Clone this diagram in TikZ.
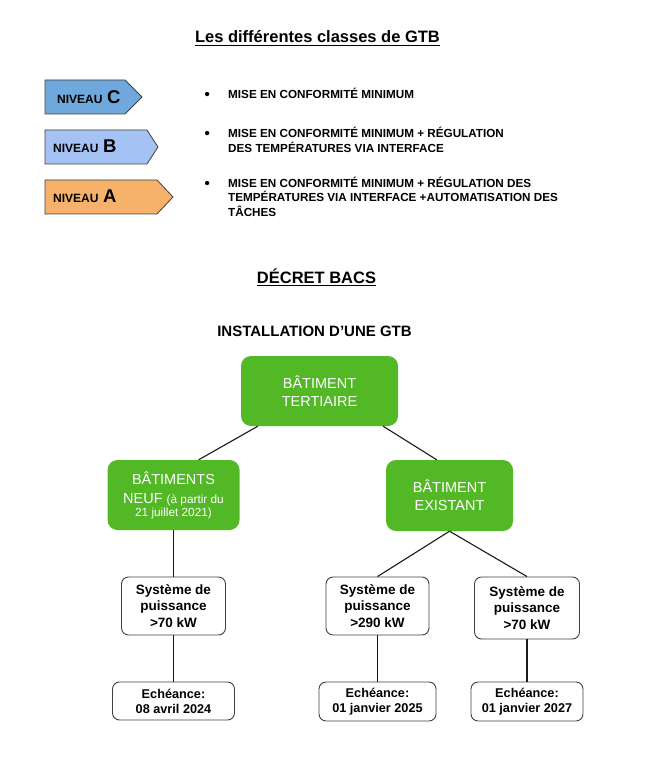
\documentclass[tikz,border=0pt]{standalone}
\usepackage{fontspec}
\setmainfont{Liberation Sans}
\usetikzlibrary{calc}
\definecolor{gtbgreen}{RGB}{82,184,38}
\definecolor{lvlc}{HTML}{6FA8DC}
\definecolor{lvlb}{HTML}{A4C2F4}
\definecolor{lvla}{HTML}{F6B26B}
\definecolor{edge}{HTML}{404040}
\begin{document}
\begin{tikzpicture}[x=1pt,y=-1pt,
  greenbox/.style={fill=gtbgreen, draw=none, rounded corners=10pt, text=white, align=center,
    font=\fontsize{14.5}{18}\selectfont, inner sep=0pt},
  whitebox/.style={draw=edge, line width=0.9pt, rounded corners=7pt, fill=white, align=center,
    font=\bfseries\fontsize{13.5}{16.7}\selectfont, inner sep=0pt},
  echbox/.style={whitebox, font=\bfseries\fontsize{12.7}{15}\selectfont},
  link/.style={draw=black!90, line width=1.1pt},
  lvlshape/.style={draw=edge, line width=0.8pt},
  lvltext/.style={anchor=base west, inner sep=0pt, font=\bfseries},
  bul/.style={anchor=base west, inner sep=0pt, font=\bfseries\fontsize{11.7}{14}\selectfont},
  dot/.style={anchor=base west, inner sep=0pt, font=\bfseries\fontsize{15}{15}\selectfont},
  heading/.style={anchor=base, inner sep=0pt, font=\bfseries\fontsize{16.5}{20}\selectfont},
  uline/.style={line width=1.1pt},
]
\useasboundingbox (0,0) rectangle (660,783);

% Title
\node[heading] (title) at (317.5,43) {Les différentes classes de GTB};
\draw[uline] ($(title.base west)+(0,2.6)$) -- ($(title.base east)+(0,2.6)$);

% Level arrows
\draw[lvlshape, fill=lvlc] (45,80) -- (125,80) -- (142,97) -- (125,114) -- (45,114) -- cycle;
\draw[lvlshape, fill=lvlb] (45,130) -- (147,130) -- (158,147) -- (147,164) -- (45,164) -- cycle;
\draw[lvlshape, fill=lvla] (45,180) -- (157,180) -- (173,197) -- (157,214) -- (45,214) -- cycle;
\node[lvltext] (nc) at (57,104) {\fontsize{12}{12}\selectfont NIVEAU\hspace{4.5pt}\fontsize{18.5}{18}\selectfont C};
\node[lvltext] (nb) at (53,153) {\fontsize{12}{12}\selectfont NIVEAU\hspace{4.5pt}\fontsize{18.5}{18}\selectfont B};
\node[lvltext] (na) at (53,203) {\fontsize{12}{12}\selectfont NIVEAU\hspace{4.5pt}\fontsize{18.5}{18}\selectfont A};

% Bullets
\node[dot] (d1) at (204.5,99.5) {•};
\node[dot] (d2) at (204.5,139) {•};
\node[dot] (d3) at (204.5,188.5) {•};
\node[bul] (l1) at (228,98.5) {MISE EN CONFORMITÉ MINIMUM};
\node[bul] (l2a) at (228,138) {MISE EN CONFORMITÉ MINIMUM + RÉGULATION};
\node[bul] (l2b) at (228,152.7) {DES TEMPÉRATURES VIA INTERFACE};
\node[bul] (l3a) at (228,187.5) {MISE EN CONFORMITÉ MINIMUM + RÉGULATION DES};
\node[bul] (l3b) at (228,202) {TEMPÉRATURES VIA INTERFACE +AUTOMATISATION DES};
\node[bul] (l3c) at (228,216.5) {TÂCHES};

% Décret BACS
\node[heading] (decret) at (316.5,283.3) {DÉCRET BACS};
\draw[uline] ($(decret.base west)+(0,2.6)$) -- ($(decret.base east)+(0,2.6)$);
\node[heading, font=\bfseries\fontsize{15}{18}\selectfont] (install) at (314.5,336.7) {INSTALLATION D’UNE GTB};

% Tree boxes
\node[greenbox, minimum width=157pt, minimum height=70pt] (tert) at (319.5,391) {BÂTIMENT\\TERTIAIRE};
\node[greenbox, minimum width=132pt, minimum height=70pt] (neuf) at (173.5,495)
  {BÂTIMENTS\\[1pt]NEUF {\fontsize{11.8}{13}\selectfont(à partir du}\\[-5pt]{\fontsize{11.8}{13}\selectfont 21 juillet 2021)}};
\node[greenbox, minimum width=127pt, minimum height=71pt] (exist) at (449.5,495.5) {BÂTIMENT\\EXISTANT};

\node[whitebox, minimum width=104pt, minimum height=58pt] (sysl) at (173.5,606) {Système de\\puissance\\>70 kW};
\node[whitebox, minimum width=103pt, minimum height=58pt] (sysm) at (377.5,606) {Système de\\puissance\\>290 kW};
\node[whitebox, minimum width=105pt, minimum height=62pt] (sysr) at (527,608) {Système de\\puissance\\>70 kW};

\node[echbox, minimum width=122pt, minimum height=38pt] (echl) at (173.5,701) {Echéance:\\08 avril 2024};
\node[echbox, minimum width=117pt, minimum height=39pt] (echm) at (377.5,701.5) {Echéance:\\01 janvier 2025};
\node[echbox, minimum width=112pt, minimum height=39pt] (echr) at (527,701.5) {Echéance:\\01 janvier 2027};

% Connectors
\draw[link] ($(tert.south west)!0.108!(tert.south east)$) -- ($(neuf.north west)!0.69!(neuf.north east)$);
\draw[link] ($(tert.south west)!0.904!(tert.south east)$) -- ($(exist.north west)!0.40!(exist.north east)$);
\draw[link] (neuf.south) -- (sysl.north);
\draw[link] (exist.south) -- (sysm.north);
\draw[link] (exist.south) -- (sysr.north);
\draw[link] (sysl.south) -- (echl.north);
\draw[link] (sysm.south) -- (echm.north);
\draw[link] (sysr.south) -- (echr.north);
\end{tikzpicture}
\end{document}
